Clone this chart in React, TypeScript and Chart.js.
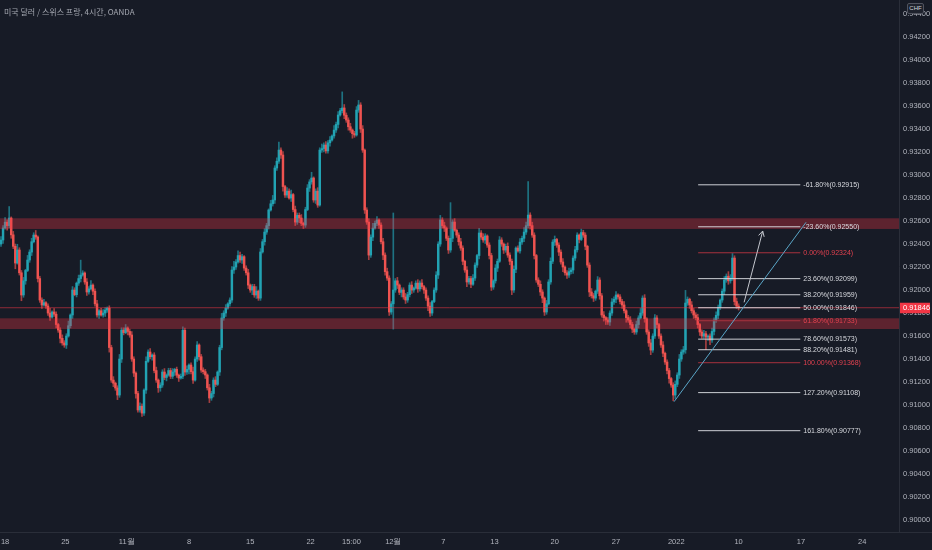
import React, { useEffect, useRef } from 'react';
import { Chart, registerables } from 'chart.js';

Chart.register(...registerables);

// ---------- data ----------
const TITLE = '미국 달러 / 스위스 프랑, 4시간, OANDA';
const CURRENCY = 'CHF';
const BASE = 0.9; // prices below are offsets from 0.90000 in units of 0.00001
const FIRST_OPEN = 2400;

const CLOSES = [
  2435, 2540, 2590, 2560, 2626, 2480, 2380, 2235, 2348, 2150,
  1957, 2080, 2170, 2261, 2330, 2420, 2478, 2461, 2100, 1913,
  1870, 1890, 1861, 1800, 1765, 1809, 1790, 1700, 1652, 1580,
  1540, 1522, 1600, 1690, 1783, 2000, 1960, 2060, 2100, 2130,
  2148, 2070, 1983, 2010, 2043, 1990, 1880, 1783, 1820, 1783,
  1800, 1826, 1843, 1500, 1217, 1190, 1148, 1087, 1400, 1652,
  1630, 1670, 1640, 1609, 1400, 1278, 1100, 957, 990, 930,
  1130, 1380, 1461, 1420, 1435, 1300, 1217, 1150, 1174, 1287,
  1240, 1261, 1300, 1250, 1287, 1310, 1260, 1235, 1250, 1650,
  1287, 1310, 1348, 1290, 1217, 1400, 1522, 1420, 1304, 1290,
  1261, 1150, 1061, 1100, 1217, 1180, 1287, 1500, 1757, 1800,
  1843, 1880, 1913, 2174, 2200, 2244, 2300, 2261, 2290, 2191,
  2150, 2043, 2000, 2030, 1957, 1990, 1930, 2331, 2420, 2504,
  2560, 2696, 2750, 2783, 3061, 3120, 3217, 3174, 2900, 2826,
  2860, 2800, 2830, 2700, 2591, 2650, 2626, 2580, 2565, 2700,
  2887, 2940, 2974, 2783, 2860, 2739, 3217, 3230, 3261, 3210,
  3280, 3304, 3340, 3391, 3440, 3522, 3560, 3583, 3520, 3478,
  3420, 3391, 3360, 3348, 3565, 3609, 3400, 3217, 2696, 2591,
  2304, 2460, 2539, 2580, 2609, 2565, 2420, 2304, 2160, 2104,
  1809, 1880, 2000, 2080, 2043, 1980, 2000, 1940, 1913, 1960,
  2043, 2000, 2017, 2060, 2010, 2061, 2030, 2000, 1930, 1860,
  1800, 1900, 2000, 2130, 2400, 2609, 2560, 2539, 2450, 2348,
  2450, 2591, 2520, 2478, 2420, 2365, 2250, 2174, 2070, 2100,
  2050, 2104, 2217, 2300, 2496, 2460, 2435, 2470, 2391, 2300,
  2026, 2080, 2191, 2250, 2435, 2400, 2348, 2380, 2304, 2250,
  2000, 2180, 2365, 2340, 2417, 2450, 2504, 2560, 2652, 2560,
  2478, 2300, 2087, 2050, 1983, 1930, 1809, 1880, 2070, 2250,
  2417, 2440, 2391, 2330, 2244, 2200, 2150, 2130, 2160, 2174,
  2278, 2350, 2478, 2440, 2500, 2478, 2380, 2217, 1983, 1950,
  1930, 1990, 2087, 1950, 1783, 1760, 1740, 1722, 1800, 1896,
  1920, 1957, 1940, 1900, 1870, 1820, 1760, 1739, 1700, 1660,
  1635, 1700, 1757, 1800, 1930, 1750, 1635, 1540, 1478, 1600,
  1757, 1700, 1600, 1522, 1450, 1374, 1300, 1230, 1174, 1087,
  1180, 1261, 1400, 1461, 1480, 1887, 1920, 1870, 1820, 1783,
  1760, 1700, 1635, 1600, 1620, 1591, 1600, 1565, 1640, 1739,
  1780, 1850, 1913, 1990, 2087, 2120, 2080, 2104, 2278, 1900, 1860, 1846,
];

// upper / lower wick lengths in pips (0.0001)
const WICK_UP = [
  3, 2, 4, 2, 10, 1, 3, 2, 5, 2, 2, 3, 1, 4, 2, 3, 2, 4, 1, 2,
  2, 3, 1, 2, 4, 1, 3, 2, 1, 2, 3, 2, 2, 4, 1, 3, 2, 1, 3, 13,
  2, 1, 3, 2, 4, 1, 2, 3, 1, 2, 3, 2, 1, 2, 2, 3, 1, 2, 4, 2,
  2, 3, 1, 2, 3, 2, 1, 2, 3, 2, 1, 4, 2, 3, 1, 2, 3, 1, 2, 2,
  3, 1, 2, 2, 3, 1, 2, 1, 2, 3, 2, 3, 1, 2, 4, 2, 3, 1, 2, 2,
  2, 1, 3, 2, 2, 3, 1, 2, 4, 2, 3, 1, 2, 3, 5, 2, 4, 3, 2, 1,
  2, 3, 1, 2, 2, 4, 1, 3, 2, 3, 2, 1, 3, 4, 2, 3, 7, 2, 3, 1,
  3, 2, 4, 1, 3, 2, 2, 3, 1, 2, 3, 2, 5, 1, 2, 3, 2, 4, 2, 3,
  2, 3, 1, 4, 2, 3, 2, 14, 3, 2, 2, 3, 1, 2, 3, 4, 2, 3, 1, 2,
  3, 2, 4, 2, 3, 1, 2, 3, 2, 3, 2, 2, 67, 2, 3, 1, 2, 2, 3, 2,
  2, 3, 1, 2, 3, 2, 3, 1, 2, 2, 3, 1, 2, 3, 2, 4, 2, 3, 1, 2,
  31, 2, 3, 1, 2, 3, 2, 1, 3, 2, 2, 3, 2, 1, 4, 2, 3, 2, 1, 2,
  2, 1, 3, 2, 3, 2, 1, 2, 3, 2, 2, 3, 1, 2, 3, 2, 4, 3, 29, 2,
  3, 2, 1, 2, 3, 2, 1, 3, 2, 3, 2, 3, 1, 2, 2, 3, 1, 2, 3, 2,
  2, 3, 2, 1, 3, 2, 2, 1, 2, 3, 2, 1, 3, 2, 2, 3, 1, 2, 2, 3,
  2, 3, 1, 2, 2, 3, 1, 2, 3, 2, 1, 3, 2, 4, 2, 3, 1, 2, 3, 2,
  3, 2, 1, 2, 3, 1, 2, 2, 1, 2, 3, 2, 4, 2, 3, 11, 2, 1, 3, 2,
  2, 3, 1, 2, 3, 2, 1, 2, 3, 2, 3, 2, 1, 2, 3, 2, 4, 3, 4, 2, 3, 2,
];
const WICK_DN = [
  2, 3, 1, 4, 2, 3, 2, 5, 1, 2, 5, 2, 3, 1, 2, 3, 1, 2, 3, 2,
  3, 1, 2, 2, 3, 1, 2, 3, 2, 4, 2, 2, 3, 1, 2, 3, 1, 2, 2, 3,
  1, 2, 3, 2, 1, 3, 2, 2, 3, 1, 2, 3, 2, 4, 2, 3, 2, 4, 2, 3,
  2, 1, 3, 2, 2, 3, 4, 2, 2, 3, 2, 3, 1, 2, 3, 2, 2, 4, 3, 2,
  2, 3, 1, 2, 2, 3, 2, 3, 1, 2, 3, 2, 4, 2, 3, 1, 2, 3, 2, 2,
  3, 2, 4, 2, 3, 2, 1, 3, 2, 2, 3, 1, 2, 2, 3, 2, 1, 2, 3, 2,
  2, 3, 2, 4, 2, 3, 2, 2, 1, 3, 2, 3, 1, 2, 3, 2, 2, 3, 4, 2,
  2, 1, 3, 2, 3, 2, 4, 2, 3, 2, 1, 3, 2, 2, 3, 2, 1, 2, 3, 2,
  2, 3, 1, 2, 2, 3, 1, 2, 3, 2, 3, 2, 4, 2, 1, 2, 3, 2, 3, 2,
  4, 2, 3, 1, 2, 3, 2, 4, 3, 2, 3, 2, 22, 2, 3, 2, 4, 2, 3, 2,
  2, 3, 2, 1, 3, 2, 2, 3, 2, 4, 3, 2, 1, 2, 3, 2, 2, 3, 2, 3,
  2, 3, 1, 2, 3, 2, 3, 2, 4, 2, 3, 1, 2, 2, 3, 2, 2, 3, 2, 3,
  3, 2, 2, 3, 1, 2, 3, 2, 2, 3, 4, 2, 3, 1, 2, 2, 3, 2, 2, 3,
  2, 3, 2, 2, 3, 4, 3, 2, 1, 2, 2, 3, 2, 3, 2, 4, 2, 3, 2, 2,
  3, 2, 2, 3, 1, 2, 3, 2, 4, 2, 3, 2, 2, 3, 2, 3, 4, 2, 3, 2,
  2, 3, 2, 2, 3, 2, 4, 2, 3, 3, 2, 2, 3, 1, 2, 3, 2, 3, 4, 2,
  2, 3, 2, 2, 3, 2, 3, 4, 2, 5, 3, 2, 3, 2, 2, 3, 2, 3, 2, 3,
  2, 3, 3, 2, 2, 11, 3, 4, 2, 3, 2, 3, 2, 2, 3, 2, 3, 2, 2, 3, 2, 2,
];

// time axis: candle index of each label and its text
const TICK_POS = [2, 31.5, 61.5, 92, 122, 151.5, 171.5, 192, 216.5, 241.5, 271, 301, 330.5, 361, 391.5, 421.5];
const TICK_LABELS = ['18', '25', '11월', '8', '15', '22', '15:00', '12월', '7', '13', '20', '27', '2022', '10', '17', '24'];

const Y_TICKS = [
  0.900, 0.902, 0.904, 0.906, 0.908, 0.910, 0.912, 0.914, 0.916, 0.918, 0.920, 0.922,
  0.924, 0.926, 0.928, 0.930, 0.932, 0.934, 0.936, 0.938, 0.940, 0.942, 0.944,
];

const ZONES = [
  [0.92531, 0.92624],
  [0.91661, 0.91754],
];

const FIB_LEVELS = [-0.618, -0.236, 0, 0.236, 0.382, 0.5, 0.618, 0.786, 0.882, 1, 1.272, 1.618];
const FIB_PRICES = [0.92915, 0.9255, 0.92324, 0.92099, 0.91959, 0.91846, 0.91733, 0.91573, 0.91481, 0.91368, 0.91108, 0.90777];
const FIB_RED = [false, false, true, false, false, false, true, false, false, true, false, false];
const FIB_X = [341.2, 391.2];

const TREND = [
  { x: 329.4, y: 0.91029 },
  { x: 394.0, y: 0.92589 },
];
const ARROW = [
  { x: 363.7, y: 0.91893 },
  { x: 372.8, y: 0.92513 },
];
const LAST_PRICE = 0.91846;

// ---------- styles ----------
const BG = '#171b26';
const UP = '#22a3b3';
const DOWN = '#ef5350';
const UP_WICK = 'rgba(34,163,179,0.65)';
const DOWN_WICK = 'rgba(239,83,80,0.65)';
const TEXT = '#b2b5be';
const NARROW = '"Liberation Sans Narrow", "Liberation Sans", Arial, sans-serif';

const toP = (v: number) => BASE + v / 100000;

export default function App() {
  const ref = useRef<HTMLCanvasElement | null>(null);

  useEffect(() => {
    document.body.style.margin = '0';
    document.body.style.background = BG;
    const canvas = ref.current;
    if (!canvas) return;

    const opens = CLOSES.map((c, i) => (i === 0 ? FIRST_OPEN : CLOSES[i - 1]));
    const isUp = CLOSES.map((c, i) => c >= opens[i]);
    const bodies = CLOSES.map((c, i) => ({
      x: i,
      y: [toP(Math.min(c, opens[i])), toP(Math.max(c, opens[i]))],
    }));
    const wicks = CLOSES.map((c, i) => ({
      x: i,
      y: [toP(Math.min(c, opens[i]) - WICK_DN[i] * 10), toP(Math.max(c, opens[i]) + WICK_UP[i] * 10)],
    }));

    const fibSets = FIB_PRICES.map((p, k) => ({
      type: 'line' as const,
      data: [
        { x: FIB_X[0], y: p },
        { x: FIB_X[1], y: p },
      ],
      borderColor: FIB_RED[k] ? '#a8323e' : 'rgba(215,217,222,0.95)',
      borderWidth: 1,
      pointRadius: 0,
      fill: false,
      order: 10,
    }));

    const decor = {
      id: 'tvDecor',
      beforeDraw(chart: any) {
        const { ctx } = chart;
        ctx.save();
        ctx.fillStyle = BG;
        ctx.fillRect(0, 0, chart.width, chart.height);
        ctx.restore();
      },
      afterDatasetDraw(chart: any, args: any) {
        if (args.index !== 1) return;
        const { ctx, chartArea: a, scales } = chart;
        const y = scales.y;
        ctx.save();
        ctx.fillStyle = 'rgba(242,54,69,0.32)';
        ZONES.forEach(([lo, hi]) => {
          const t = y.getPixelForValue(hi);
          const b = y.getPixelForValue(lo);
          ctx.fillRect(a.left, t, a.right - a.left, b - t);
        });
        ctx.restore();
      },
      afterDatasetsDraw(chart: any) {
        const { ctx, scales } = chart;
        const xs = scales.x;
        const ys = scales.y;
        ctx.save();
        ctx.font = `7px ${NARROW}`;
        ctx.textBaseline = 'middle';
        ctx.textAlign = 'left';
        const lx = xs.getPixelForValue(FIB_X[1]) + 3;
        FIB_PRICES.forEach((p, k) => {
          ctx.fillStyle = FIB_RED[k] ? '#e2414f' : '#d8dadf';
          const txt = `${(FIB_LEVELS[k] * 100).toFixed(2)}%(${p.toFixed(5)})`;
          ctx.fillText(txt, lx, ys.getPixelForValue(p));
        });
        // arrow head
        const x1 = xs.getPixelForValue(ARROW[0].x);
        const y1 = ys.getPixelForValue(ARROW[0].y);
        const x2 = xs.getPixelForValue(ARROW[1].x);
        const y2 = ys.getPixelForValue(ARROW[1].y);
        const ang = Math.atan2(y2 - y1, x2 - x1);
        const L = 6;
        ctx.strokeStyle = '#c3c6cd';
        ctx.lineWidth = 1;
        ctx.beginPath();
        ctx.moveTo(x2 - L * Math.cos(ang - 0.5), y2 - L * Math.sin(ang - 0.5));
        ctx.lineTo(x2, y2);
        ctx.lineTo(x2 - L * Math.cos(ang + 0.5), y2 - L * Math.sin(ang + 0.5));
        ctx.stroke();
        ctx.restore();
      },
      afterDraw(chart: any) {
        const { ctx, chartArea: a, scales } = chart;
        const py = scales.y.getPixelForValue(LAST_PRICE);
        ctx.save();
        ctx.fillStyle = '#f23645';
        ctx.fillRect(a.right + 1, py - 5, 30, 10.5);
        ctx.fillStyle = '#ffffff';
        ctx.font = `7.5px ${NARROW}`;
        ctx.textBaseline = 'middle';
        ctx.textAlign = 'left';
        ctx.fillText(LAST_PRICE.toFixed(5), a.right + 4, py + 0.5);
        ctx.strokeStyle = '#2a2e39';
        ctx.lineWidth = 1;
        ctx.beginPath();
        ctx.moveTo(a.right, a.bottom + 0.5);
        ctx.lineTo(chart.width, a.bottom + 0.5);
        ctx.stroke();
        ctx.restore();
      },
    };

    const chart = new Chart(canvas, {
      type: 'bar',
      data: {
        datasets: [
          {
            type: 'bar',
            data: wicks as any,
            backgroundColor: isUp.map((u) => (u ? UP_WICK : DOWN_WICK)),
            barThickness: 1,
            grouped: false,
            borderWidth: 0,
            order: 20,
          } as any,
          {
            type: 'bar',
            data: bodies as any,
            backgroundColor: isUp.map((u) => (u ? UP : DOWN)),
            barThickness: 1.8,
            grouped: false,
            borderWidth: 0,
            order: 19,
          } as any,
          {
            type: 'line',
            data: [
              { x: -0.49, y: LAST_PRICE },
              { x: 439.5, y: LAST_PRICE },
            ],
            borderColor: 'rgba(242,54,69,0.55)',
            borderWidth: 1,
            pointRadius: 0,
            order: 18,
          } as any,
          ...fibSets,
          {
            type: 'line',
            data: TREND,
            borderColor: '#5aa6c8',
            borderWidth: 1,
            pointRadius: 0,
            order: 9,
          } as any,
          {
            type: 'line',
            data: ARROW,
            borderColor: '#c3c6cd',
            borderWidth: 1,
            pointRadius: 0,
            order: 8,
          } as any,
        ],
      },
      options: {
        responsive: false,
        animation: false,
        events: [],
        layout: { padding: 0 },
        plugins: { legend: { display: false }, tooltip: { enabled: false } },
        scales: {
          x: {
            type: 'linear',
            min: -0.49,
            max: 439.5,
            offset: false,
            grid: { display: false, drawTicks: false },
            border: { display: true, color: '#2a2e39' },
            afterBuildTicks: (s: any) => {
              s.ticks = TICK_POS.map((v) => ({ value: v }));
            },
            afterFit: (s: any) => {
              s.height = 18;
              s.paddingLeft = 0;
              s.paddingRight = 0;
            },
            ticks: {
              autoSkip: false,
              maxRotation: 0,
              color: TEXT,
              padding: 5,
              font: { family: NARROW, size: 7.5 },
              callback: (_v: any, idx: number) => TICK_LABELS[idx],
            },
          },
          y: {
            type: 'linear',
            position: 'right',
            min: 0.89896,
            max: 0.94522,
            grid: { display: false, drawTicks: false },
            border: { display: true, color: '#2a2e39' },
            afterBuildTicks: (s: any) => {
              s.ticks = Y_TICKS.map((v) => ({ value: v }));
            },
            afterFit: (s: any) => {
              s.width = 33;
              s.paddingTop = 0;
              s.paddingBottom = 0;
            },
            ticks: {
              autoSkip: false,
              color: TEXT,
              padding: 4,
              font: { family: NARROW, size: 7.5 },
              callback: (v: any) => Number(v).toFixed(5),
            },
          },
        },
      },
      plugins: [decor],
    } as any);

    return () => chart.destroy();
  }, []);

  return (
    <div style={{ position: 'relative', width: 932, height: 550, background: BG, overflow: 'hidden' }}>
      <canvas ref={ref} width={932} height={550} style={{ display: 'block', width: 932, height: 550 }} />
      <div
        style={{
          position: 'absolute',
          left: 4,
          top: 6,
          fontFamily: '"Noto Sans CJK KR", "Liberation Sans", sans-serif',
          fontSize: 8,
          lineHeight: '11px',
          color: '#a4a7b0',
          whiteSpace: 'nowrap',
        }}
      >
        {TITLE}
      </div>
      <div
        style={{
          position: 'absolute',
          left: 907,
          top: 3,
          width: 17,
          height: 11,
          boxSizing: 'border-box',
          border: '1px solid #50535e',
          borderRadius: 2,
          background: '#1e222d',
          color: '#d1d4dc',
          fontFamily: NARROW,
          fontSize: 6,
          lineHeight: '9px',
          textAlign: 'center',
        }}
      >
        {CURRENCY}
      </div>
    </div>
  );
}
